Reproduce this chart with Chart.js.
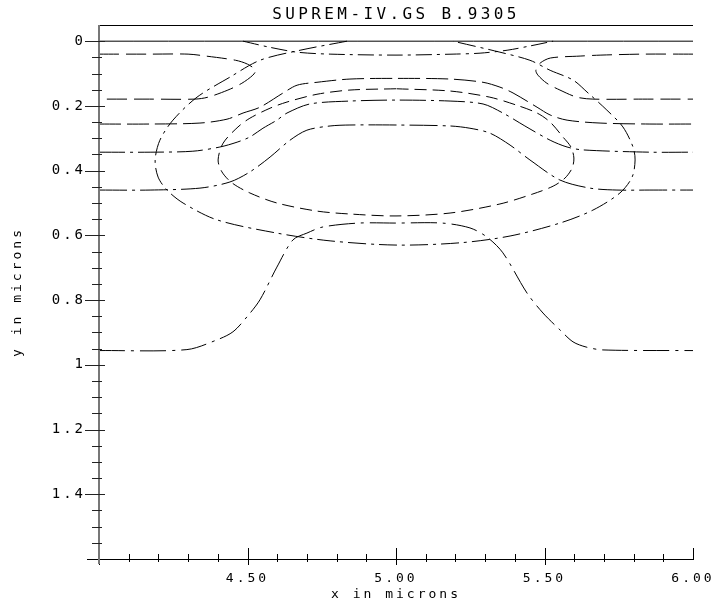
<!DOCTYPE html>
<html>
<head>
<meta charset="utf-8">
<script src="https://cdn.jsdelivr.net/npm/chart.js@4.4.0/dist/chart.umd.min.js"></script>
<style>
	html, body { margin: 0; padding: 0; background: #fff; }
</style>
</head>
<body>
<canvas id="contourChart" width="721" height="607"></canvas>
<script>
// contour lines, x and y in microns (y grows downward)
const surfaceX = [4.0, 6.0];
const surfaceY = [0, 0];

const lobeLeftX = [4.00, 4.17, 4.30, 4.36, 4.46, 4.50, 4.527, 4.518, 4.481, 4.434, 4.367, 4.323, 4.17, 4.00];
const lobeLeftY = [0.040, 0.040, 0.040, 0.046, 0.059, 0.071, 0.090, 0.105, 0.130, 0.151, 0.173, 0.179, 0.179, 0.179];

const lobeRightX = [6.00, 5.83, 5.69, 5.62, 5.52, 5.485, 5.471, 5.478, 5.508, 5.552, 5.609, 5.663, 5.83, 6.00];
const lobeRightY = [0.040, 0.040, 0.043, 0.046, 0.052, 0.068, 0.090, 0.105, 0.130, 0.151, 0.173, 0.179, 0.179, 0.179];

const topArcX = [4.485, 4.576, 4.667, 4.778, 5.0, 5.192, 5.283, 5.374, 5.45, 5.529];
const topArcY = [0.0, 0.019, 0.034, 0.040, 0.043, 0.040, 0.037, 0.028, 0.015, 0.0];

const outerX = [4.835, 4.677, 4.542, 4.441, 4.330, 4.249, 4.205, 4.189, 4.199, 4.229, 4.283, 4.397, 4.599, 4.778, 5.0,
	5.215, 5.384, 5.552, 5.663, 5.754, 5.795, 5.805, 5.798, 5.764, 5.710, 5.643, 5.596, 5.519, 5.451, 5.350, 5.192];
const outerY = [0.0, 0.028, 0.059, 0.111, 0.173, 0.244, 0.306, 0.367, 0.420, 0.460, 0.500, 0.552, 0.593, 0.617, 0.630,
	0.623, 0.602, 0.562, 0.522, 0.469, 0.420, 0.367, 0.327, 0.265, 0.213, 0.157, 0.120, 0.090, 0.059, 0.034, 0.0];

const arcAX = [4.0, 4.172, 4.340, 4.431, 4.485, 4.542, 4.620, 4.667, 4.734, 4.845, 5.0, 5.182, 5.293, 5.350, 5.394, 5.475, 5.519, 5.576, 5.687, 5.855, 6.0];
const arcAY = [0.256, 0.256, 0.253, 0.241, 0.222, 0.204, 0.160, 0.136, 0.127, 0.117, 0.115, 0.117, 0.127, 0.142, 0.160, 0.204, 0.228, 0.244, 0.253, 0.256, 0.256];

const innerX = [5.0, 4.845, 4.734, 4.633, 4.576, 4.508, 4.468, 4.418, 4.401, 4.414, 4.448, 4.508, 4.599, 4.734, 4.845, 5.0,
	5.182, 5.350, 5.461, 5.529, 5.569, 5.593, 5.599, 5.589, 5.562, 5.519, 5.475, 5.407, 5.316, 5.182, 5.0];
const innerY = [0.147, 0.151, 0.164, 0.188, 0.207, 0.238, 0.265, 0.315, 0.367, 0.404, 0.438, 0.469, 0.500, 0.525, 0.534, 0.540,
	0.531, 0.503, 0.472, 0.448, 0.423, 0.392, 0.361, 0.327, 0.296, 0.250, 0.222, 0.198, 0.173, 0.154, 0.147];

const arcBX = [4.0, 4.172, 4.316, 4.407, 4.465, 4.508, 4.552, 4.599, 4.633, 4.710, 4.845, 5.0, 5.182, 5.293, 5.360, 5.434, 5.519, 5.576, 5.630, 5.855, 6.0];
const arcBY = [0.343, 0.343, 0.340, 0.327, 0.312, 0.296, 0.269, 0.244, 0.222, 0.194, 0.185, 0.182, 0.185, 0.194, 0.222, 0.262, 0.306, 0.327, 0.336, 0.343, 0.343];

const arcCX = [4.0, 4.172, 4.340, 4.441, 4.508, 4.576, 4.643, 4.700, 4.778, 4.845, 5.0, 5.182, 5.249, 5.316, 5.384, 5.451, 5.552, 5.653, 5.744, 5.855, 6.0];
const arcCY = [0.460, 0.460, 0.454, 0.435, 0.404, 0.358, 0.306, 0.275, 0.262, 0.259, 0.259, 0.262, 0.269, 0.284, 0.321, 0.367, 0.429, 0.454, 0.460, 0.460, 0.460];

const arcDX = [4.0, 4.296, 4.397, 4.451, 4.498, 4.542, 4.599, 4.653, 4.700, 4.754, 4.875, 5.0, 5.155, 5.249, 5.306, 5.360, 5.441, 5.495, 5.552, 5.596, 5.640, 5.697, 6.0];
const arcDY = [0.956, 0.953, 0.923, 0.898, 0.852, 0.799, 0.698, 0.614, 0.593, 0.574, 0.562, 0.562, 0.562, 0.577, 0.605, 0.654, 0.778, 0.840, 0.892, 0.929, 0.945, 0.954, 0.956];

const titleText = 'SUPREM-IV.GS B.9305';
const xTitle = 'x in microns';
const yTitle = 'y in microns';

const FONT = '"DejaVu Sans Mono", monospace';

function pts(xs, ys) {
	return xs.map((x, i) => ({ x: x, y: ys[i] }));
}

const curves = [
	{ xs: surfaceX, ys: surfaceY, dash: [] },
	{ xs: lobeLeftX, ys: lobeLeftY, dash: [20, 7] },
	{ xs: lobeRightX, ys: lobeRightY, dash: [20, 7] },
	{ xs: topArcX, ys: topArcY, dash: [16, 5, 3, 5] },
	{ xs: outerX, ys: outerY, dash: [18, 5, 3, 5] },
	{ xs: arcAX, ys: arcAY, dash: [22, 6] },
	{ xs: innerX, ys: innerY, dash: [12, 6] },
	{ xs: arcBX, ys: arcBY, dash: [26, 5, 3, 5] },
	{ xs: arcCX, ys: arcCY, dash: [28, 5, 3, 5] },
	{ xs: arcDX, ys: arcDY, dash: [26, 6, 3, 6] }
];

function isStep(v, step) {
	return Math.abs(v / step - Math.round(v / step)) < 1e-6;
}

// axis frame, crossing tick marks and the title
const plotAxes = {
	id: 'plotAxes',
	beforeDraw(chart) {
		chart.ctx.letterSpacing = '3px';
	},
	afterDraw(chart) {
		const ctx = chart.ctx;
		const a = chart.chartArea;
		const xs = chart.scales.x;
		const ys = chart.scales.y;
		ctx.save();
		ctx.setLineDash([]);

		// top frame
		ctx.strokeStyle = '#000';
		ctx.lineWidth = 1;
		ctx.beginPath();
		ctx.moveTo(a.left, a.top + 0.5);
		ctx.lineTo(a.right, a.top + 0.5);
		ctx.stroke();

		// bottom axis
		ctx.beginPath();
		ctx.moveTo(a.left - 12, a.bottom + 0.5);
		ctx.lineTo(a.right, a.bottom + 0.5);
		ctx.stroke();

		xs.ticks.forEach(t => {
			const px = Math.round(xs.getPixelForValue(t.value)) + 0.5;
			const major = isStep(t.value, 0.5);
			ctx.beginPath();
			if (major) {
				ctx.moveTo(px, a.bottom - 11);
				ctx.lineTo(px, t.value > 5.99 ? a.bottom + 1 : a.bottom + 6);
			} else {
				ctx.moveTo(px, a.bottom - 5);
				ctx.lineTo(px, a.bottom + 3);
			}
			ctx.stroke();
		});

		// left axis
		ctx.strokeStyle = '#777';
		ctx.lineWidth = 2;
		ctx.beginPath();
		ctx.moveTo(a.left, a.top);
		ctx.lineTo(a.left, a.bottom + 5);
		ctx.stroke();

		ctx.strokeStyle = '#222';
		ctx.lineWidth = 1;
		ys.ticks.forEach(t => {
			const v = t.value;
			if (v < -0.001 || v > 1.56) return;
			const py = Math.round(ys.getPixelForValue(v)) + 0.5;
			ctx.beginPath();
			if (isStep(v, 0.2)) {
				ctx.moveTo(a.left - 14, py);
				ctx.lineTo(a.left + 6, py);
			} else {
				ctx.moveTo(a.left - 7, py);
				ctx.lineTo(a.left + 3, py);
			}
			ctx.stroke();
		});

		// title
		ctx.fillStyle = '#000';
		ctx.font = '16px ' + FONT;
		ctx.letterSpacing = '3.4px';
		ctx.textAlign = 'center';
		ctx.textBaseline = 'alphabetic';
		ctx.fillText(titleText, (a.left + a.right) / 2 + 0, 19);
		ctx.restore();
	}
};

const ctx = document.getElementById('contourChart').getContext('2d');
const contourChart = new Chart(ctx, {
	type: 'scatter',
	data: {
		datasets: curves.map(c => ({
			data: pts(c.xs, c.ys),
			showLine: true,
			borderColor: '#000',
			borderWidth: 1,
			borderDash: c.dash,
			pointRadius: 0,
			pointHoverRadius: 0,
			tension: 0.3,
			fill: false
		}))
	},
	options: {
		responsive: false,
		animation: false,
		devicePixelRatio: 1,
		layout: {
			padding: { left: 0, top: 25, right: 28, bottom: 0 }
		},
		plugins: {
			legend: { display: false },
			tooltip: { enabled: false }
		},
		scales: {
			x: {
				type: 'linear',
				min: 4,
				max: 6,
				grid: { display: false },
				border: { display: false },
				ticks: {
					stepSize: 0.1,
					maxTicksLimit: 100,
					autoSkip: false,
					maxRotation: 0,
					padding: 4,
					color: '#000',
					font: { family: FONT, size: 13 },
					callback: v => (isStep(v, 0.5) && v > 4.01) ? v.toFixed(2) : ''
				},
				title: {
					display: true,
					text: xTitle,
					color: '#000',
					font: { family: FONT, size: 13 },
					padding: { top: 0, bottom: 5 }
				},
				afterFit: s => { s.height = 48; }
			},
			y: {
				type: 'linear',
				reverse: true,
				min: -0.05,
				max: 1.6,
				grid: { display: false },
				border: { display: false },
				ticks: {
					stepSize: 0.05,
					maxTicksLimit: 100,
					autoSkip: false,
					padding: 5,
					color: '#000',
					font: { family: FONT, size: 14 },
					callback: v => (isStep(v, 0.2) && v > -0.001 && v < 1.5) ? String(Math.round(v * 10) / 10) : ''
				},
				title: {
					display: true,
					text: yTitle,
					color: '#000',
					font: { family: FONT, size: 13 },
					padding: { top: 10, bottom: 0 }
				},
				afterFit: s => { s.width = 99; }
			}
		}
	},
	plugins: [plotAxes]
});
</script>
</body>
</html>
